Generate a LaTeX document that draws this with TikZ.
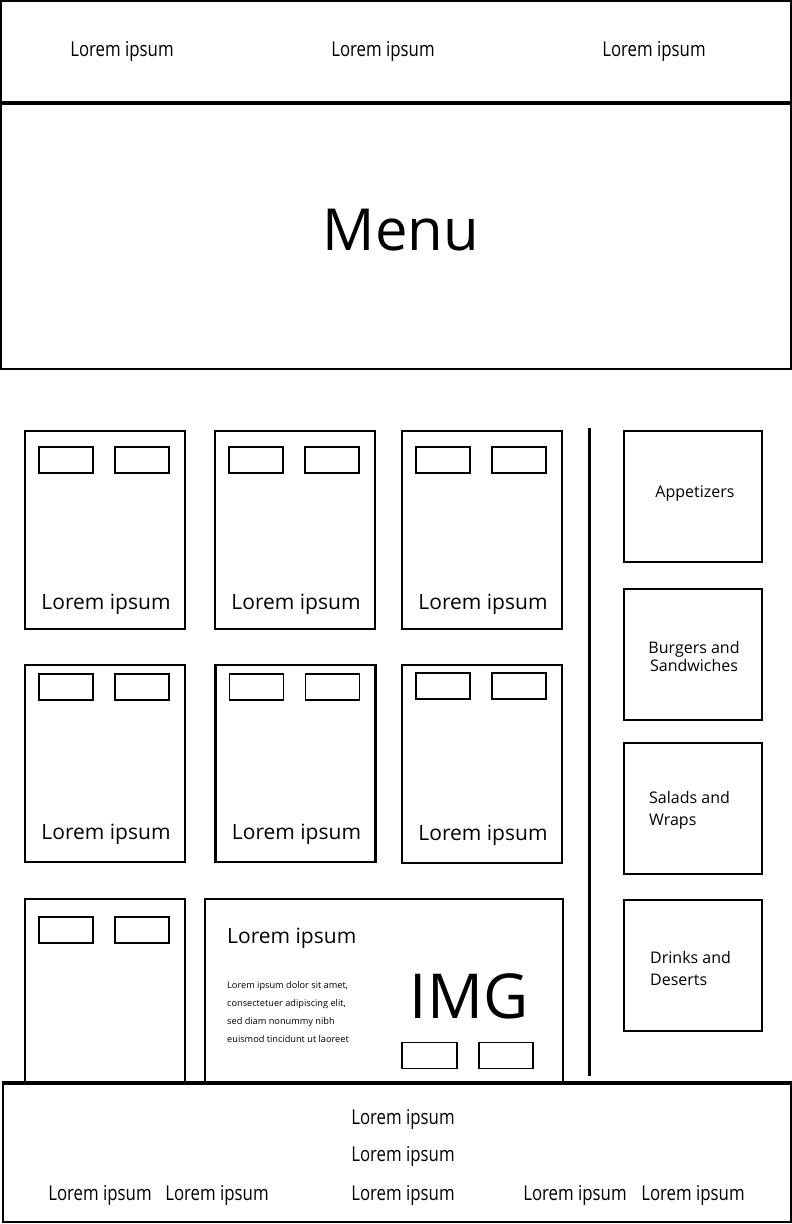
\documentclass[tikz,border=0pt]{standalone}
\usepackage{fontspec}
\setmainfont{Open Sans}
\newfontfamily\narrowfont[FakeStretch=0.82]{Open Sans}
\usetikzlibrary{positioning}

\begin{document}
\begin{tikzpicture}[x=1pt,y=-1pt,
    every node/.style={inner sep=0pt,font=\fontsize{21}{24}\selectfont},
    frame/.style={draw,line width=1.5pt,minimum width=790pt},
    card/.style={draw,line width=2.5pt,minimum width=160pt,minimum height=198pt},
    btn/.style={draw,line width=1.8pt,minimum width=54pt,minimum height=26pt},
    side/.style={draw,line width=2.5pt,minimum width=138pt,minimum height=131pt},
    sidetext/.style={font=\fontsize{16}{19}\selectfont},
    navtext/.style={font=\narrowfont\fontsize{20.5}{22}\selectfont}]

  \useasboundingbox (0,0) rectangle (792,1224);

  % top bar
  \node[frame,minimum height=101pt] (nav) at (396,51.5) {};
  \draw[line width=4pt] (nav.south west) -- (nav.south east);
  \node[navtext] (nav1) at (122,51) {Lorem ipsum};
  \node[navtext] (nav2) at (383,51) {Lorem ipsum};
  \node[navtext] (nav3) at (654,51) {Lorem ipsum};

  % title
  \node[frame,minimum height=265pt] (menu) at (396,236.5) {};
  \node[font=\fontsize{58}{64}\selectfont] (title) at (401,230) {Menu};

  % dishes
  \foreach \n/\cx/\cy/\h/\b/\s in {a/105/530/198/30/26, b/295/530/198/30/26, c/482/530/198/30/26,
      d/105/763.5/197/23/29, e/295.5/763.5/197/23/29, f/482/764/198/22/29}{
    \node[card,minimum height=\h pt] (card\n) at (\cx,\cy) {};
    \node[btn,xshift=-39pt,yshift=-\b pt] (card\n-l) at (card\n.north) {};
    \node[btn,xshift=37pt,yshift=-\b pt] (card\n-r) at (card\n.north) {};
    \node[xshift=1pt,yshift=\s pt] (card\n-t) at (card\n.south) {Lorem ipsum};
  }

  \node[card,minimum height=184pt] (cardg) at (105,991) {};
  \node[btn,xshift=-39pt,yshift=-32pt] (cardg-l) at (cardg.north) {};
  \node[btn,xshift=37pt,yshift=-32pt] (cardg-r) at (cardg.north) {};

  % featured dish
  \node[card,minimum width=358pt,minimum height=184pt] (feat) at (384,991) {};
  \node[anchor=west] (feat-t) at (227,938) {Lorem ipsum};
  \node[anchor=north west,align=left,font=\fontsize{9.2}{18}\selectfont] (feat-d) at (227,981)
    {Lorem ipsum dolor sit amet,\\consectetuer adipiscing elit,\\sed diam nonummy nibh\\euismod tincidunt ut laoreet};
  \node[font=\fontsize{62}{70}\selectfont] (img) at (469,996) {IMG};
  \node[btn,minimum width=55pt] (feat-l) at (429.5,1055.5) {};
  \node[btn] (feat-r) at (506,1055.5) {};

  % divider
  \coordinate (div-top) at (589,428);
  \coordinate (div-bot) at (589,1076);
  \draw[line width=3pt] (div-top) -- (div-bot);

  % categories
  \node[side] (cat1) at (693,496.5) {};
  \node[sidetext] (cat1-t) at (695,494) {Appetizers};
  \node[side] (cat2) at (693,654.5) {};
  \node[sidetext,align=center,font=\fontsize{16}{18}\selectfont] (cat2-t) at (694,656) {Burgers and\\Sandwiches};
  \node[side] (cat3) at (693,808.5) {};
  \node[sidetext,anchor=west,align=left,font=\fontsize{16}{22}\selectfont] (cat3-t) at (649,810) {Salads and\\Wraps};
  \node[side] (cat4) at (693,965.5) {};
  \node[sidetext,anchor=west,align=left,font=\fontsize{16}{22}\selectfont] (cat4-t) at (650,968) {Drinks and\\Deserts};

  % footer
  \node[frame,minimum width=788pt,minimum height=138pt] (foot) at (397,1153) {};
  \draw[line width=4pt] (foot.north west) -- (foot.north east);
  \node[navtext] (foot1) at (403,1119) {Lorem ipsum};
  \node[navtext] (foot2) at (403,1156) {Lorem ipsum};
  \node[navtext] (foot3) at (403,1195) {Lorem ipsum};
  \node[navtext] (foot4) at (100,1195) {Lorem ipsum};
  \node[navtext] (foot5) at (217,1195) {Lorem ipsum};
  \node[navtext] (foot6) at (575,1195) {Lorem ipsum};
  \node[navtext] (foot7) at (693,1195) {Lorem ipsum};
\end{tikzpicture}
\end{document}
